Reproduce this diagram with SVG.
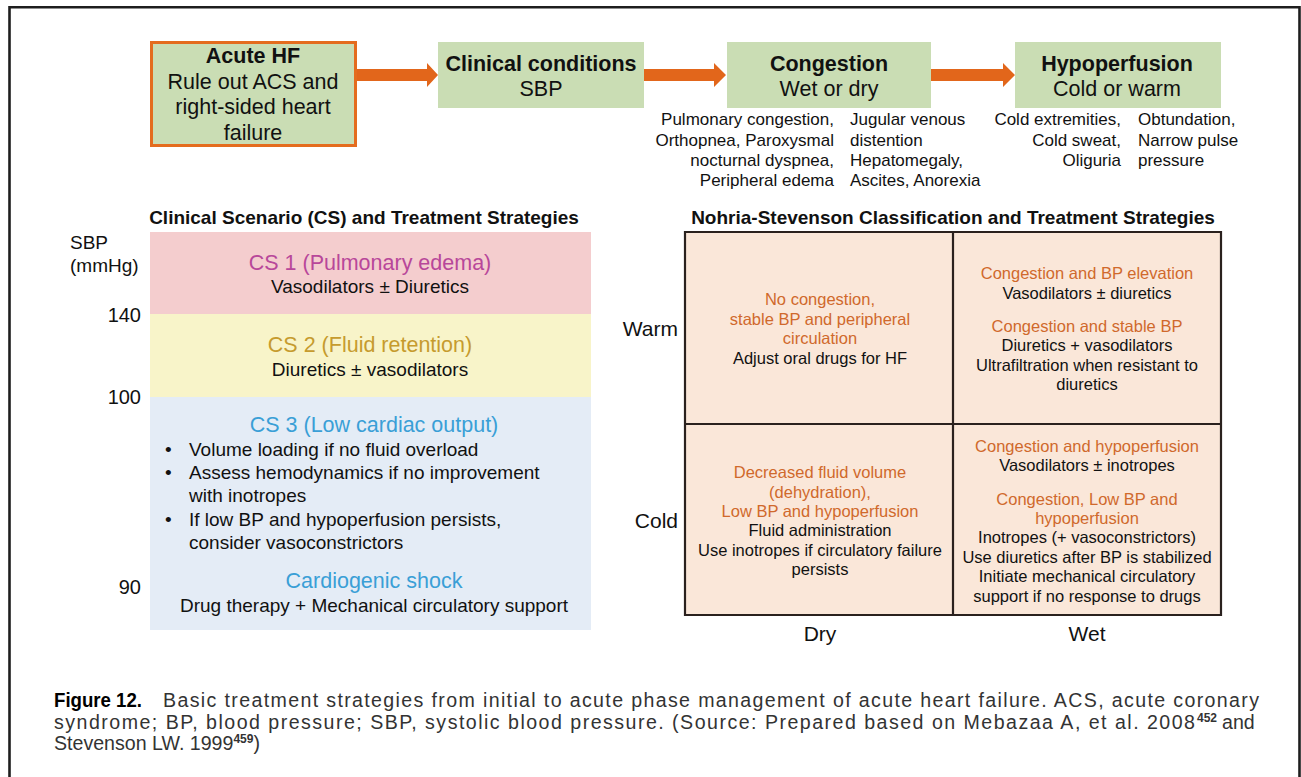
<svg xmlns="http://www.w3.org/2000/svg" width="1301" height="777" viewBox="0 0 1301 777">
  <defs>
    <style>
      text { font-family: "Liberation Sans", Arial, sans-serif; fill: #111; }
      .box { fill: #CADDB4; }
      .hd { font-size: 21.5px; font-weight: bold; text-anchor: middle; }
      .sub { font-size: 21.5px; text-anchor: middle; }
      .note { font-size: 17px; }
      .r { text-anchor: end; }
      .c { text-anchor: middle; }
      .title { font-size: 19px; font-weight: bold; text-anchor: middle; }
      .axis { font-size: 20px; }
      .cs { font-size: 21.5px; text-anchor: middle; }
      .body { font-size: 19px; }
      .cell { font-size: 16.5px; text-anchor: middle; }
      .or { fill: #D0692C; }
      .arrow { fill: #E2661B; }
      .cap { font-size: 19.6px; fill: #333; }
    </style>
  </defs>

  <rect width="1301" height="777" fill="#fff"/>
  <!-- outer frame (open at the bottom) -->
  <path d="M9.5 777 V7.3 H1299.5 V777" fill="none" stroke="#1e1e1e" stroke-width="2.6"/>

  <!-- flow row -->
  <g id="acute-hf">
    <rect class="box" x="151.5" y="42.5" width="204" height="103" stroke="#E46C1E" stroke-width="3"/>
    <text class="hd" x="253" y="63">Acute HF</text>
    <text class="sub" x="253" y="89">Rule out ACS and</text>
    <text class="sub" x="253" y="114">right-sided heart</text>
    <text class="sub" x="253" y="140">failure</text>
  </g>
  <g id="clinical-conditions">
    <rect class="box" x="438" y="42" width="206" height="66"/>
    <text class="hd" x="541" y="71">Clinical conditions</text>
    <text class="sub" x="541" y="96">SBP</text>
  </g>
  <g id="congestion">
    <rect class="box" x="727" y="42" width="204" height="66"/>
    <text class="hd" x="829" y="71">Congestion</text>
    <text class="sub" x="829" y="96">Wet or dry</text>
    <g class="note">
      <text class="r" x="834" y="125">Pulmonary congestion,</text>
      <text class="r" x="834" y="146">Orthopnea, Paroxysmal</text>
      <text class="r" x="834" y="166">nocturnal dyspnea,</text>
      <text class="r" x="834" y="186">Peripheral edema</text>
      <text x="850" y="125">Jugular venous</text>
      <text x="850" y="146">distention</text>
      <text x="850" y="166">Hepatomegaly,</text>
      <text x="850" y="186">Ascites, Anorexia</text>
    </g>
  </g>
  <g id="hypoperfusion">
    <rect class="box" x="1015" y="42" width="206" height="66"/>
    <text class="hd" x="1117" y="71">Hypoperfusion</text>
    <text class="sub" x="1117" y="96">Cold or warm</text>
    <g class="note">
      <text class="r" x="1121" y="125">Cold extremities,</text>
      <text class="r" x="1121" y="146">Cold sweat,</text>
      <text class="r" x="1121" y="166">Oliguria</text>
      <text x="1138" y="125">Obtundation,</text>
      <text x="1138" y="146">Narrow pulse</text>
      <text x="1138" y="166">pressure</text>
    </g>
  </g>

  <g id="connectors">
    <polygon class="arrow" points="357,69 427,69 427,63 438,75 427,87 427,81 357,81"/>
    <polygon class="arrow" points="644,69 714,69 714,63 726,75 714,87 714,81 644,81"/>
    <polygon class="arrow" points="931,69 1003,69 1003,63 1015,75 1003,87 1003,81 931,81"/>
  </g>

  <!-- clinical scenario panel -->
  <g id="clinical-scenario">
    <text class="title" x="364" y="224">Clinical Scenario (CS) and Treatment Strategies</text>
    <text class="axis" x="70" y="249" style="font-size:19px">SBP</text>
    <text class="axis" x="70" y="272" style="font-size:19px">(mmHg)</text>
    <text class="axis r" x="141" y="322">140</text>
    <text class="axis r" x="141" y="404">100</text>
    <text class="axis r" x="141" y="594">90</text>

    <g id="cs1">
      <rect x="150" y="232" width="441" height="82" fill="#F4CDCE"/>
      <text class="cs" x="370" y="270" style="fill:#B8479A">CS 1 (Pulmonary edema)</text>
      <text class="body c" x="370" y="293">Vasodilators ± Diuretics</text>
    </g>
    <g id="cs2">
      <rect x="150" y="314" width="441" height="83" fill="#F8F4C9"/>
      <text class="cs" x="370" y="352" style="fill:#C69B2E">CS 2 (Fluid retention)</text>
      <text class="body c" x="370" y="376">Diuretics ± vasodilators</text>
    </g>
    <g id="cs3">
      <rect x="150" y="397" width="441" height="233" fill="#E4ECF6"/>
      <text class="cs" x="374" y="432" style="fill:#3A9FD6">CS 3 (Low cardiac output)</text>
      <g class="body">
        <text x="165" y="456">•</text>
        <text x="189" y="456">Volume loading if no fluid overload</text>
        <text x="165" y="479">•</text>
        <text x="189" y="479">Assess hemodynamics if no improvement</text>
        <text x="189" y="502">with inotropes</text>
        <text x="165" y="526">•</text>
        <text x="189" y="526">If low BP and hypoperfusion persists,</text>
        <text x="189" y="549">consider vasoconstrictors</text>
      </g>
      <text class="cs" x="374" y="588" style="fill:#3A9FD6">Cardiogenic shock</text>
      <text class="body c" x="374" y="612">Drug therapy + Mechanical circulatory support</text>
    </g>
  </g>

  <!-- Nohria-Stevenson panel -->
  <g id="nohria-stevenson">
    <text class="title" x="953" y="224">Nohria-Stevenson Classification and Treatment Strategies</text>
    <rect x="685" y="232" width="536" height="383" fill="#FAE7D9"/>
    <path d="M685 232 H1221 V615 H685 Z M953 232 V615 M685 424 H1221" fill="none" stroke="#2A211E" stroke-width="2.2"/>
    <text class="axis r" x="678" y="336" style="font-size:21px">Warm</text>
    <text class="axis r" x="678" y="528" style="font-size:21px">Cold</text>
    <text class="axis c" x="820" y="641" style="font-size:21px">Dry</text>
    <text class="axis c" x="1087" y="641" style="font-size:21px">Wet</text>

    <g id="warm-dry">
      <text class="cell or" x="820" y="305">No congestion,</text>
      <text class="cell or" x="820" y="325">stable BP and peripheral</text>
      <text class="cell or" x="820" y="344">circulation</text>
      <text class="cell" x="820" y="364">Adjust oral drugs for HF</text>
    </g>
    <g id="warm-wet">
      <text class="cell or" x="1087" y="279">Congestion and BP elevation</text>
      <text class="cell" x="1087" y="299">Vasodilators ± diuretics</text>
      <text class="cell or" x="1087" y="332">Congestion and stable BP</text>
      <text class="cell" x="1087" y="351">Diuretics + vasodilators</text>
      <text class="cell" x="1087" y="371">Ultrafiltration when resistant to</text>
      <text class="cell" x="1087" y="390">diuretics</text>
    </g>
    <g id="cold-dry">
      <text class="cell or" x="820" y="478">Decreased fluid volume</text>
      <text class="cell or" x="820" y="498">(dehydration),</text>
      <text class="cell or" x="820" y="517">Low BP and hypoperfusion</text>
      <text class="cell" x="820" y="536">Fluid administration</text>
      <text class="cell" x="820" y="556">Use inotropes if circulatory failure</text>
      <text class="cell" x="820" y="575">persists</text>
    </g>
    <g id="cold-wet">
      <text class="cell or" x="1087" y="452">Congestion and hypoperfusion</text>
      <text class="cell" x="1087" y="471">Vasodilators ± inotropes</text>
      <text class="cell or" x="1087" y="505">Congestion, Low BP and</text>
      <text class="cell or" x="1087" y="524">hypoperfusion</text>
      <text class="cell" x="1087" y="543">Inotropes (+ vasoconstrictors)</text>
      <text class="cell" x="1087" y="563">Use diuretics after BP is stabilized</text>
      <text class="cell" x="1087" y="582">Initiate mechanical circulatory</text>
      <text class="cell" x="1087" y="602">support if no response to drugs</text>
    </g>
  </g>

  <!-- caption -->
  <g id="caption">
    <text x="54" y="707" style="font-size:20px;font-weight:bold;fill:#000" textLength="88" lengthAdjust="spacingAndGlyphs">Figure 12.</text>
    <text class="cap" x="163" y="707" textLength="1096" lengthAdjust="spacing">Basic treatment strategies from initial to acute phase management of acute heart failure. ACS, acute coronary</text>
    <text class="cap" x="54" y="729" textLength="1141" lengthAdjust="spacing">syndrome; BP, blood pressure; SBP, systolic blood pressure. (Source: Prepared based on Mebazaa A, et al. 2008</text>
    <text x="1197" y="722" style="font-size:12px;font-weight:bold;fill:#333">452</text>
    <text class="cap" x="1222" y="729">and</text>
    <text class="cap" x="54" y="750">Stevenson LW. 1999<tspan dy="-7" style="font-size:12px;font-weight:bold">459</tspan><tspan dy="7">)</tspan></text>
  </g>
</svg>
